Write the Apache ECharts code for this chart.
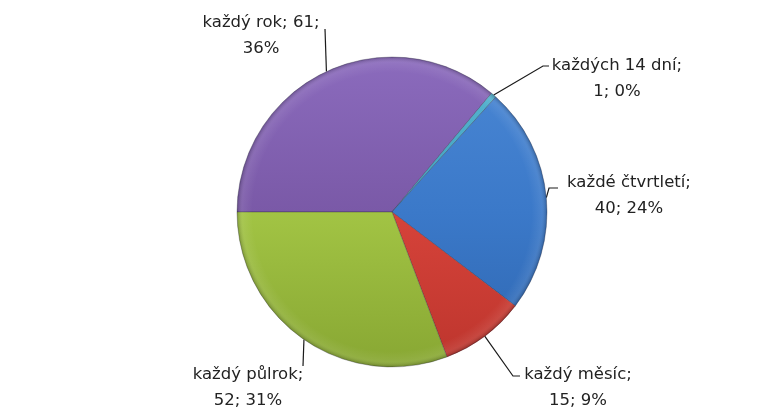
<!DOCTYPE html>
<html>
<head>
<meta charset="utf-8">
<script src="https://cdn.jsdelivr.net/npm/echarts@6/dist/echarts.min.js"></script>
<style>
  html, body { margin: 0; padding: 0; background: #fff; }
  #chart { width: 767px; height: 412px; }
</style>
</head>
<body>
<div id="chart"></div>
<script>
// Categories and counts, clockwise from 9 o'clock
const categories = ['každý rok', 'každých 14 dní', 'každé čtvrtletí', 'každý měsíc', 'každý půlrok'];
const counts = [61, 1, 40, 15, 52];
const percents = [36, 0, 24, 9, 31];

// Slice colours: [lit top, base, shaded bottom]
const palette = [
  ['#8b6bbd', '#7a59a7', '#694a98'],
  ['#5ab7d4', '#3f9fbd', '#2f86a3'],
  ['#4a87d4', '#3b79c9', '#2e66b0'],
  ['#e3554a', '#d6433a', '#bd352d'],
  ['#b3d555', '#a2c444', '#88a733']
];

// Pie geometry
const CX = 392, CY = 212, R = 155;

// Label block centres and leader-line bends (pixels)
const labelSpots = [
  { x: 261, y: 36, line: [[325, 29]] },
  { x: 617, y: 79, line: [[543, 66], [549, 66]] },
  { x: 629, y: 196, line: [[549, 188], [558, 188]] },
  { x: 578, y: 388, line: [[513, 376], [520, 376]] },
  { x: 248, y: 388, line: [[303, 366]] }
];

// The first label wraps after the count, the others after the name
const wrapAfterCount = [true, false, false, false, false];

function sliceFill(c) {
  return {
    type: 'linear', global: true,
    x: CX, y: CY - R, x2: CX, y2: CY + R,
    colorStops: [
      { offset: 0, color: c[0] },
      { offset: 0.5, color: c[1] },
      { offset: 1, color: c[2] }
    ]
  };
}

const rimShade = {
  type: 'radial', global: true, x: CX, y: CY, r: R,
  colorStops: [
    { offset: 0, color: 'rgba(255,255,255,0)' },
    { offset: 0.9, color: 'rgba(255,255,255,0)' },
    { offset: 0.965, color: 'rgba(255,255,255,0.08)' },
    { offset: 1, color: 'rgba(0,0,0,0.22)' }
  ]
};

const data = categories.map((name, i) => ({
  name: name,
  value: counts[i],
  pct: percents[i],
  itemStyle: { color: sliceFill(palette[i]) }
}));

const chart = echarts.init(document.getElementById('chart'), null, { renderer: 'canvas' });
chart.setOption({
  backgroundColor: '#ffffff',
  animation: false,
  series: [{
    type: 'pie',
    center: [CX, CY],
    radius: [0, R],
    startAngle: 180,
    clockwise: true,
    avoidLabelOverlap: false,
    itemStyle: { borderColor: 'rgba(40,40,60,0.45)', borderWidth: 0.7 },
    label: {
      show: true,
      position: 'outside',
      color: '#222222',
      fontFamily: 'DejaVu Sans',
      fontSize: 16.5,
      lineHeight: 26,
      formatter: p => {
        const i = p.dataIndex;
        return wrapAfterCount[i]
          ? p.name + '; ' + p.value + ';\n' + p.data.pct + '%'
          : p.name + ';\n' + p.value + '; ' + p.data.pct + '%';
      }
    },
    labelLine: {
      show: true,
      length: 10,
      length2: 8,
      lineStyle: { color: '#1a1a1a', width: 1.2 }
    },
    labelLayout: function (params) {
      const s = labelSpots[params.dataIndex];
      const start = params.labelLinePoints ? params.labelLinePoints[0] : null;
      const out = { x: s.x, y: s.y, align: 'center', verticalAlign: 'middle' };
      if (start) out.labelLinePoints = [start].concat(s.line);
      return out;
    },
    data: data
  }, {
    // bevel shading along the rim
    type: 'pie',
    silent: true,
    center: [CX, CY],
    radius: [0, R],
    startAngle: 180,
    clockwise: true,
    label: { show: false },
    labelLine: { show: false },
    itemStyle: { color: rimShade, borderWidth: 0 },
    data: counts.map(v => ({ value: v }))
  }]
});
</script>
</body>
</html>
